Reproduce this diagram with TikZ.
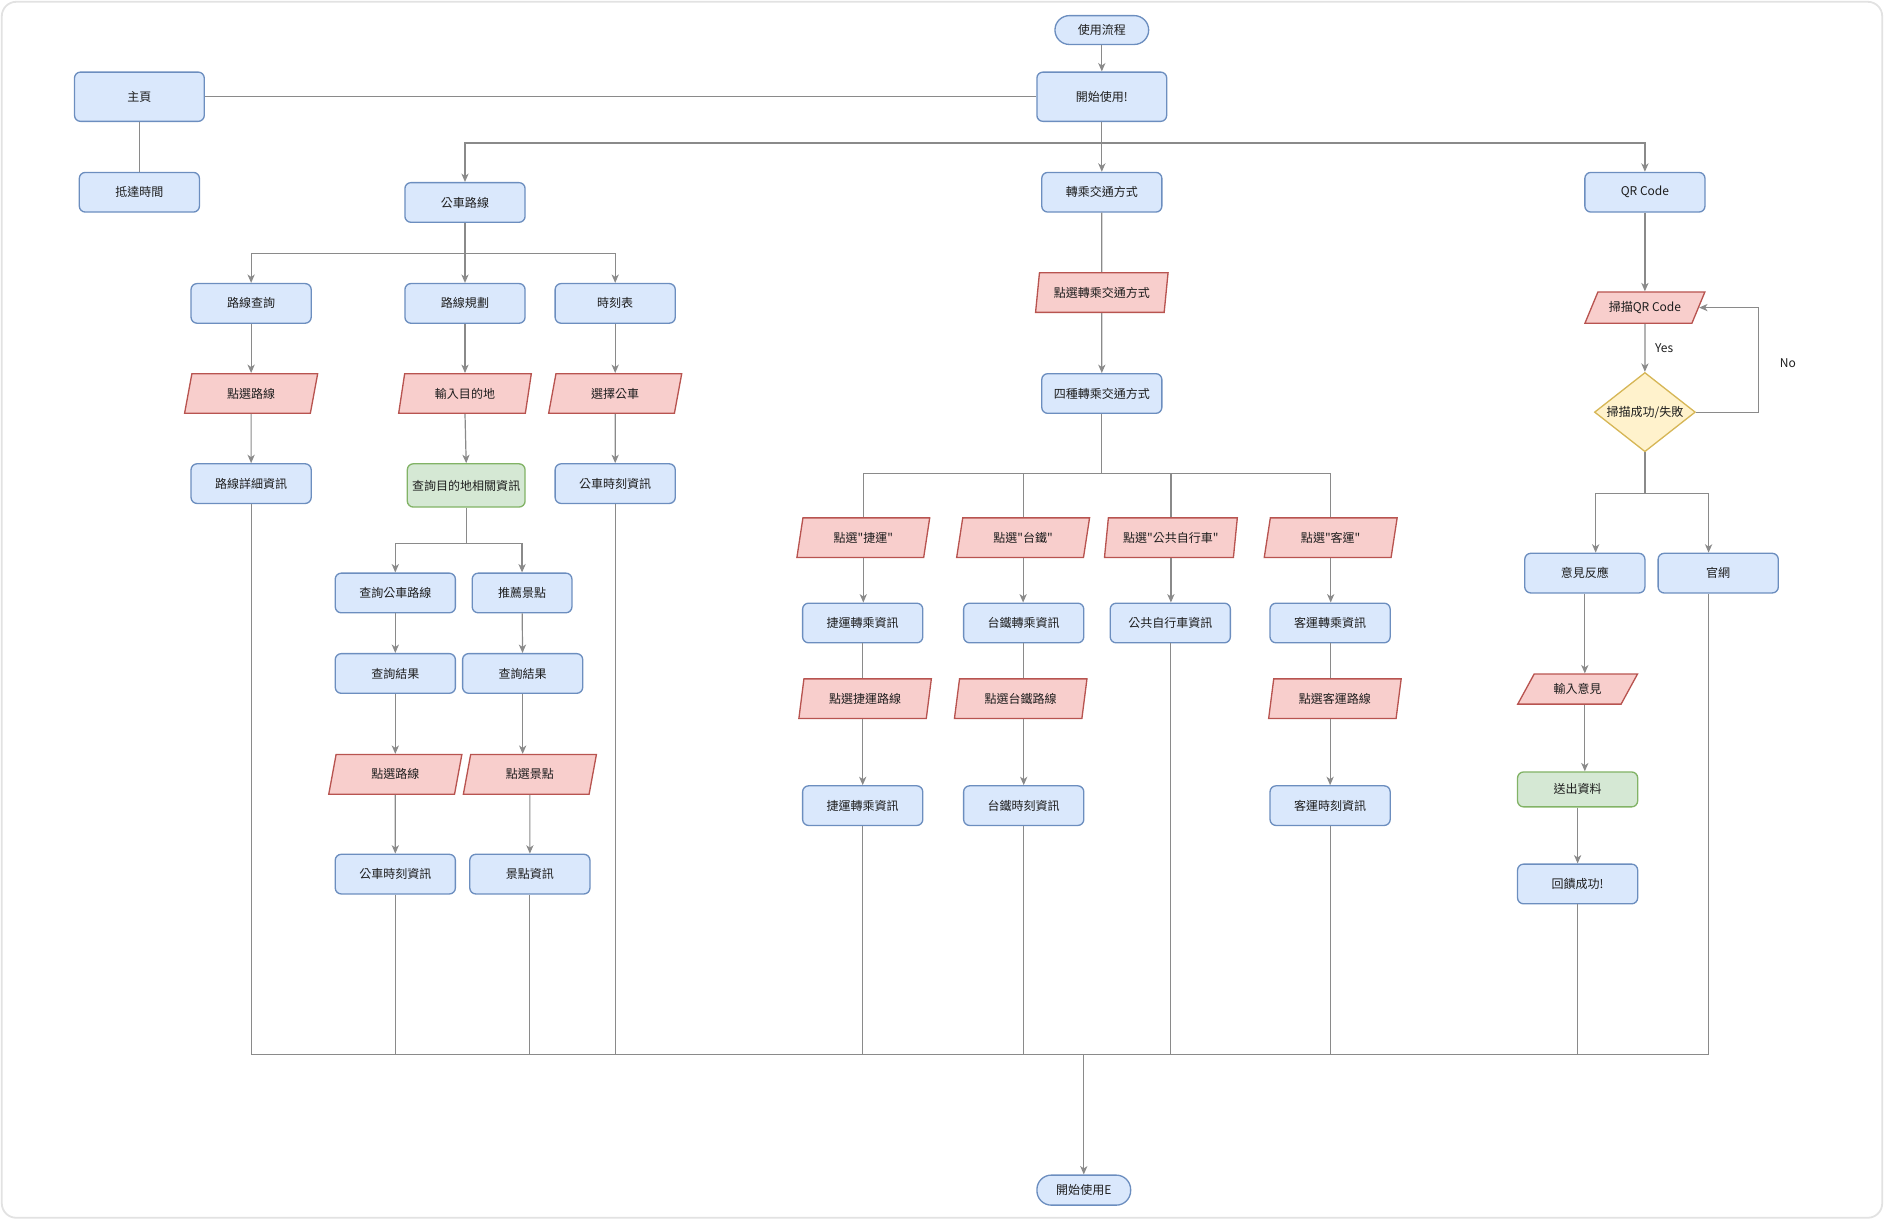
\documentclass[tikz,border=0pt]{standalone}
\usepackage{fontspec}
\setmainfont{Noto Sans CJK TC}[Ligatures=TeXOff]
\usetikzlibrary{shapes.geometric,arrows.meta,calc}
\definecolor{bfill}{HTML}{DAE8FC}
\definecolor{bstroke}{HTML}{6C8EBF}
\definecolor{rfill}{HTML}{F8CECC}
\definecolor{rstroke}{HTML}{B85450}
\definecolor{gfill}{HTML}{D5E8D4}
\definecolor{gstroke}{HTML}{82B366}
\definecolor{yfill}{HTML}{FFF2CC}
\definecolor{ystroke}{HTML}{D6B656}
\definecolor{edgecol}{HTML}{8A8A8A}
\definecolor{txtcol}{HTML}{1E1E1E}
\definecolor{framecol}{HTML}{E2E2E2}
\begin{document}
\begin{tikzpicture}[x=1pt,y=-1pt,
  lbl/.style={font=\fontsize{10}{12}\selectfont, text=txtcol, inner sep=0},
  box/.style={lbl, draw=bstroke, fill=bfill, rounded corners=5, line width=1.1,
    minimum width=100, minimum height=33},
  bigbox/.style={box, minimum width=108, minimum height=41},
  gbox/.style={box, draw=gstroke, fill=gfill},
  term/.style={box, rounded corners=12, minimum width=78, minimum height=24},
  para/.style={lbl, trapezium, trapezium left angle=75, trapezium right angle=105,
    trapezium stretches=true, draw=rstroke, fill=rfill, line width=1.1,
    minimum width=111, minimum height=33},
  flatpara/.style={para, trapezium left angle=51, trapezium right angle=129,
    minimum width=100, minimum height=26},
  dec/.style={lbl, diamond, draw=ystroke, fill=yfill, line width=1.1, aspect=1.27,
    minimum width=84, minimum height=66},
  ln/.style={draw=edgecol, line width=1},
  arr/.style={ln, -{Stealth[length=7pt,width=6pt,inset=2pt]}},
  note/.style={font=\fontsize{10}{12}\selectfont, text=txtcol, inner sep=0}
]
\useasboundingbox (0,0) rectangle (1568,1015);
\draw[framecol, line width=1.5, rounded corners=12] (1.5,1.5) rectangle (1566.5,1013.5);

% top
\node[term] (start) at (917,25) {使用流程};
\node[bigbox] (open) at (917,80.5) {開始使用!};
\node[bigbox] (home) at (116,80.5) {主頁};
\node[box] (arrive) at (116,160) {抵達時間};
\node[box] (bus) at (387,168.5) {公車路線};
\node[box] (trans) at (917,160) {轉乘交通方式};
\node[box] (qr) at (1369,160) {QR Code};

% bus branch
\node[box] (q1) at (209,252.5) {路線查詢};
\node[box] (q2) at (387,252.5) {路線規劃};
\node[box] (q3) at (512,252.5) {時刻表};
\node[para] (p1) at (209,327.5) {點選路線};
\node[para] (p2) at (387,327.5) {輸入目的地};
\node[para] (p3) at (512,327.5) {選擇公車};
\node[box] (r1) at (209,402.5) {路線詳細資訊};
\node[gbox, minimum width=98, minimum height=36] (r2) at (388,404) {查詢目的地相關資訊};
\node[box] (r3) at (512,402.5) {公車時刻資訊};
\node[box] (a1) at (329,493.5) {查詢公車路線};
\node[box, minimum width=83] (b1) at (434.5,493.5) {推薦景點};
\node[box] (a2) at (329,560.5) {查詢結果};
\node[box] (b2) at (435,560.5) {查詢結果};
\node[para] (a3) at (329,644.5) {點選路線};
\node[para] (b3) at (441,644.5) {點選景點};
\node[box] (a4) at (329,727.5) {公車時刻資訊};
\node[box] (b4) at (441,727.5) {景點資訊};

% transfer branch
\node[para] (tp) at (917,243.5) {點選轉乘交通方式};
\node[box] (t4) at (917,327.5) {四種轉乘交通方式};
\node[para] (c1p) at (718.5,447.5) {點選"捷運"};
\node[para] (c2p) at (851.5,447.5) {點選"台鐵"};
\node[para] (c3p) at (974.5,447.5) {點選"公共自行車"};
\node[para] (c4p) at (1107.5,447.5) {點選"客運"};
\node[box] (c1b) at (718,518.5) {捷運轉乘資訊};
\node[box] (c2b) at (852,518.5) {台鐵轉乘資訊};
\node[box] (c3b) at (974,518.5) {公共自行車資訊};
\node[box] (c4b) at (1107,518.5) {客運轉乘資訊};
\node[para] (c1q) at (720,581.5) {點選捷運路線};
\node[para] (c2q) at (849.5,581.5) {點選台鐵路線};
\node[para] (c4q) at (1111,581.5) {點選客運路線};
\node[box] (c1r) at (718,670.5) {捷運轉乘資訊};
\node[box] (c2r) at (852,670.5) {台鐵時刻資訊};
\node[box] (c4r) at (1107,670.5) {客運時刻資訊};

% QR branch
\node[flatpara] (scan) at (1369,256) {掃描QR Code};
\node[dec] (dia) at (1369,343) {掃描成功/失敗};
\node[box] (fb) at (1319,477) {意見反應};
\node[box] (web) at (1430,477) {官網};
\node[flatpara, minimum height=25] (inp) at (1313,573.5) {輸入意見};
\node[gbox, minimum height=29] (send) at (1313,657) {送出資料};
\node[box] (ok) at (1313,735.7) {回饋成功!};
\node[note] (yes) at (1385,290) {Yes};
\node[note] (no) at (1488,302) {No};

% end
\node[term, minimum height=25] (fin) at (902,990.5) {開始使用E};

% junctions
\coordinate (j1) at (917,119);
\coordinate (j2) at (387,211);
\coordinate (j3) at (388,452);
\coordinate (j4) at (917,394);
\coordinate (j5) at (1369,410.5);
\coordinate (m) at (902,877.5);
\coordinate (mL) at (209,877.5);
\coordinate (mR) at (1422,877.5);

% edges top
\draw[arr] (start) -- (open);
\draw[ln] (home) -- (open);
\draw[ln] (home) -- (arrive);
\draw[ln] (open) -- (j1);
\draw[arr] (j1) -| (bus.north);
\draw[arr] (j1) -- (trans.north);
\draw[arr] (j1) -| (qr.north);

% bus edges
\draw[ln] (bus) -- (j2);
\draw[arr] (j2) -| (q1.north);
\draw[arr] (j2) -- (q2.north);
\draw[arr] (j2) -| (q3.north);
\draw[arr] (q1) -- (p1);
\draw[arr] (q2) -- (p2);
\draw[arr] (q3) -- (p3);
\draw[arr] (p1) -- (r1);
\draw[arr] (p2.south) -- (r2.north);
\draw[arr] (p3) -- (r3);
\draw[ln] (r2) -- (j3);
\draw[arr] (j3) -| (a1.north);
\draw[arr] (j3) -| (b1.north);
\draw[arr] (a1) -- (a2);
\draw[arr] (b1) -- (b2);
\draw[arr] (a2) -- (a3);
\draw[arr] (b2.south) -- (b2.south |- b3.north);
\draw[arr] (a3) -- (a4);
\draw[arr] (b3) -- (b4);

% transfer edges
\draw[ln] (trans) -- (tp);
\draw[arr] (tp) -- (t4);
\draw[ln] (t4) -- (j4);
\draw[ln] (j4) -| (c1p.north);
\draw[ln] (j4) -| (c4p.north);
\draw[ln] (c2p.north) -- (c2p.north |- j4);
\draw[ln] (c3p.north) -- (c3p.north |- j4);
\draw[arr] (c1p.south) -- (c1p.south |- c1b.north);
\draw[arr] (c2p.south) -- (c2p.south |- c2b.north);
\draw[arr] (c3p.south) -- (c3p.south |- c3b.north);
\draw[arr] (c4p.south) -- (c4p.south |- c4b.north);
\draw[ln] (c1b.south) -- (c1b.south |- c1q.north);
\draw[ln] (c2b.south) -- (c2b.south |- c2q.north);
\draw[ln] (c4b.south) -- (c4b.south |- c4q.north);
\draw[arr] (c1b.south |- c1q.south) -- (c1r.north);
\draw[arr] (c2b.south |- c2q.south) -- (c2r.north);
\draw[arr] (c4b.south |- c4q.south) -- (c4r.north);

% QR edges
\draw[arr] (qr) -- (scan);
\draw[arr] (scan) -- (dia);
\draw[arr] (dia.east) -- ++(52,0) |- (scan.east);
\draw[ln] (dia) -- (j5);
\draw[arr] (j5) -| ($(fb.north)+(9,0)$);
\draw[arr] (j5) -| ($(web.north)+(-8,0)$);
\draw[arr] (fb.south) -- (fb.south |- inp.north);
\draw[arr] (fb.south |- inp.south) -- (fb.south |- send.north);
\draw[arr] (send) -- (ok);

% merge to end
\draw[ln] (r1.south) -- (mL) -- (mR) -- ($(web.south)+(-8,0)$);
\foreach \n in {a4,b4,r3,c1r,c2r,c3b,c4r,ok}{
  \draw[ln] (\n.south) -- (\n.south |- m);
}
\draw[ln] (b4.south |- m) -- (m);
\draw[arr] (m) -- (fin.north);
\end{tikzpicture}
\end{document}
